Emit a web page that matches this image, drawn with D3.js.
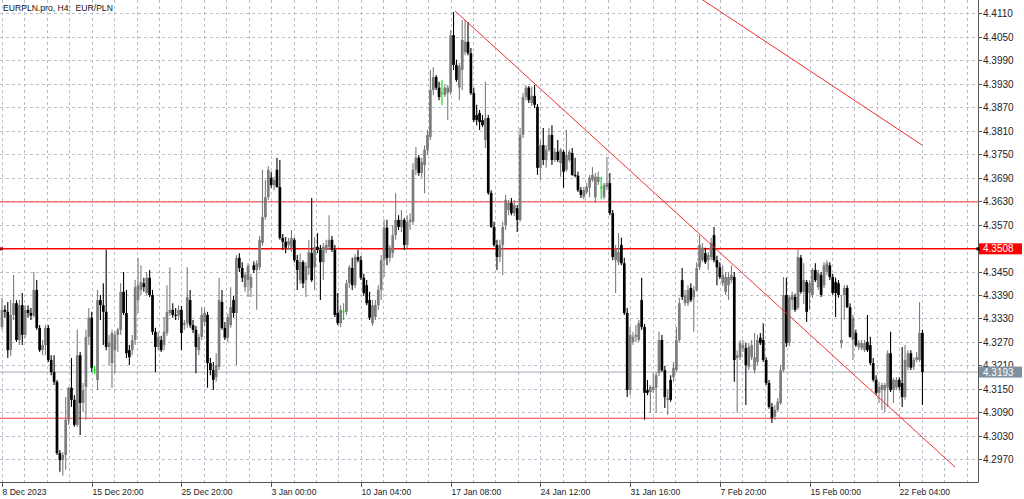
<!DOCTYPE html>
<html><head><meta charset="utf-8">
<script src="https://cdn.jsdelivr.net/npm/d3@7"></script>
<style>html,body{margin:0;padding:0;background:#fff;overflow:hidden}</style>
</head><body><svg id="c" width="1024" height="499"></svg>
<script>
const openP=[4.3308,4.3352,4.3347,4.3249,4.3339,4.3369,4.3275,4.3364,4.3288,4.3352,4.3344,4.3337,4.3403,4.3306,4.3249,4.3262,4.3306,4.3224,4.3193,4.3168,4.2986,4.2968,4.2981,4.3071,4.3153,4.3122,4.3058,4.3236,4.3114,4.3155,4.3283,4.3332,4.3198,4.3173,4.3377,4.3364,4.3347,4.3257,4.3216,4.3249,4.3288,4.3301,4.3398,4.3344,4.3249,4.3249,4.3275,4.3377,4.3403,4.3420,4.3395,4.3434,4.3390,4.3296,4.3257,4.3275,4.3262,4.3293,4.3344,4.3352,4.3339,4.3337,4.3352,4.3313,4.3318,4.3377,4.3313,4.3301,4.3249,4.3283,4.3321,4.3339,4.3216,4.3198,4.3180,4.3206,4.3372,4.3306,4.3281,4.3313,4.3377,4.3344,4.3485,4.3459,4.3410,4.3428,4.3408,4.3466,4.3454,4.3461,4.3523,4.3589,4.3640,4.3690,4.3671,4.3710,4.3666,4.3536,4.3526,4.3518,4.3511,4.3531,4.3479,4.3428,4.3474,4.3428,4.3459,4.3497,4.3461,4.3513,4.3505,4.3474,4.3505,4.3513,4.3531,4.3505,4.3344,4.3318,4.3347,4.3347,4.3420,4.3459,4.3415,4.3487,4.3479,4.3434,4.3415,4.3377,4.3318,4.3334,4.3364,4.3403,4.3479,4.3562,4.3485,4.3497,4.3543,4.3582,4.3564,4.3582,4.3518,4.3577,4.3577,4.3710,4.3741,4.3702,4.3722,4.3761,4.3794,4.3914,4.3947,4.3920,4.3906,4.3901,4.3906,4.3909,4.4054,4.3978,4.3920,4.3965,4.4011,4.4037,4.4008,4.3906,4.3850,4.3855,4.3837,4.3786,4.3842,4.3651,4.3564,4.3518,4.3487,4.3518,4.3569,4.3607,4.3625,4.3599,4.3612,4.3582,4.3799,4.3896,4.3920,4.3881,4.3899,4.3871,4.3715,4.3773,4.3735,4.3761,4.3799,4.3735,4.3756,4.3727,4.3756,4.3710,4.3735,4.3753,4.3697,4.3695,4.3658,4.3640,4.3653,4.3664,4.3684,4.3640,4.3679,4.3664,4.3640,4.3666,4.3676,4.3599,4.3479,4.3474,4.3518,4.3471,4.3344,4.3147,4.3270,4.3283,4.3275,4.3377,4.3308,4.3147,4.3142,4.3147,4.3153,4.3190,4.3275,4.3198,4.3122,4.3173,4.3180,4.3198,4.3275,4.3428,4.3369,4.3369,4.3408,4.3385,4.3403,4.3461,4.3479,4.3497,4.3479,4.3487,4.3543,4.3479,4.3461,4.3420,4.3398,4.3415,4.3428,4.3436,4.3229,4.3231,4.3254,4.3254,4.3206,4.3231,4.3198,4.3219,4.3281,4.3275,4.3224,4.3165,4.3104,4.3079,4.3096,4.3114,4.3198,4.3390,4.3267,4.3377,4.3385,4.3357,4.3485,4.3398,4.3423,4.3395,4.3390,4.3454,4.3410,4.3441,4.3415,4.3449,4.3466,4.3436,4.3423,4.3420,4.3267,4.3390,4.3408,4.3359,4.3275,4.3293,4.3257,4.3254,4.3249,4.3270,4.3262,4.3216,4.3173,4.3140,4.3147,4.3147,4.3153,4.3241,4.3147,4.3153,4.3173,4.3165,4.3129,4.3206,4.3241,4.3206,4.3224,4.3224,4.3293];
const highP=[4.3383,4.3364,4.3372,4.3377,4.3441,4.3377,4.3377,4.3395,4.3364,4.3364,4.3357,4.3449,4.3428,4.3313,4.3275,4.3313,4.3313,4.3236,4.3236,4.3173,4.2994,4.2989,4.3129,4.3155,4.3229,4.3134,4.3301,4.3244,4.3165,4.3301,4.3357,4.3347,4.3209,4.3403,4.3390,4.3420,4.3505,4.3288,4.3301,4.3296,4.3306,4.3420,4.3449,4.3403,4.3262,4.3288,4.3428,4.3485,4.3466,4.3434,4.3449,4.3454,4.3403,4.3306,4.3296,4.3286,4.3334,4.3415,4.3461,4.3369,4.3357,4.3364,4.3362,4.3326,4.3461,4.3403,4.3326,4.3311,4.3291,4.3359,4.3357,4.3347,4.3229,4.3219,4.3241,4.3434,4.3403,4.3321,4.3342,4.3410,4.3388,4.3492,4.3497,4.3474,4.3449,4.3471,4.3444,4.3476,4.3479,4.3541,4.3710,4.3684,4.3720,4.3705,4.3692,4.3741,4.3735,4.3546,4.3538,4.3536,4.3556,4.3536,4.3492,4.3497,4.3479,4.3474,4.3531,4.3638,4.3538,4.3548,4.3518,4.3523,4.3531,4.3594,4.3541,4.3518,4.3395,4.3364,4.3369,4.3428,4.3466,4.3485,4.3495,4.3505,4.3490,4.3444,4.3428,4.3398,4.3377,4.3377,4.3415,4.3492,4.3582,4.3582,4.3518,4.3569,4.3650,4.3594,4.3607,4.3587,4.3594,4.3599,4.3727,4.3768,4.3748,4.3741,4.3773,4.3812,4.3965,4.3973,4.3952,4.3935,4.3940,4.3927,4.3927,4.4067,4.4113,4.3991,4.3983,4.4093,4.4093,4.4088,4.4021,4.3920,4.3876,4.3863,4.3850,4.3935,4.3850,4.3658,4.3577,4.3531,4.3531,4.3577,4.3646,4.3633,4.3638,4.3633,4.3620,4.3817,4.3906,4.3927,4.3924,4.3922,4.3927,4.3878,4.3786,4.3817,4.3773,4.3817,4.3824,4.3766,4.3786,4.3766,4.3761,4.3812,4.3761,4.3766,4.3741,4.3705,4.3666,4.3666,4.3676,4.3697,4.3717,4.3702,4.3705,4.3692,4.3676,4.3743,4.3702,4.3607,4.3518,4.3548,4.3536,4.3485,4.3357,4.3308,4.3296,4.3313,4.3326,4.3434,4.3316,4.3173,4.3160,4.3190,4.3193,4.3296,4.3288,4.3209,4.3147,4.3185,4.3219,4.3308,4.3383,4.3459,4.3403,4.3415,4.3420,4.3413,4.3474,4.3543,4.3523,4.3511,4.3500,4.3536,4.3564,4.3490,4.3474,4.3466,4.3449,4.3449,4.3466,4.3449,4.3249,4.3275,4.3275,4.3267,4.3267,4.3275,4.3293,4.3288,4.3293,4.3318,4.3231,4.3173,4.3114,4.3109,4.3127,4.3211,4.3436,4.3434,4.3390,4.3398,4.3393,4.3505,4.3492,4.3471,4.3428,4.3428,4.3459,4.3471,4.3454,4.3449,4.3474,4.3479,4.3474,4.3444,4.3434,4.3428,4.3390,4.3415,4.3415,4.3369,4.3339,4.3301,4.3275,4.3275,4.3275,4.3339,4.3283,4.3229,4.3185,4.3168,4.3165,4.3165,4.3249,4.3296,4.3178,4.3180,4.3180,4.3257,4.3262,4.3249,4.3249,4.3231,4.3244,4.3372,4.3301];
const lowP=[4.3301,4.3332,4.3229,4.3234,4.3326,4.3270,4.3262,4.3262,4.3281,4.3332,4.3326,4.3332,4.3301,4.3244,4.3236,4.3236,4.3219,4.3185,4.3160,4.2981,4.2938,4.2928,4.2943,4.3058,4.3104,4.3053,4.3053,4.3032,4.3091,4.3071,4.3262,4.3193,4.3188,4.3147,4.3326,4.3262,4.3249,4.3211,4.3153,4.3190,4.3244,4.3288,4.3339,4.3229,4.3211,4.3236,4.3262,4.3344,4.3390,4.3398,4.3388,4.3385,4.3288,4.3193,4.3249,4.3244,4.3249,4.3286,4.3337,4.3332,4.3326,4.3326,4.3249,4.3301,4.3306,4.3306,4.3293,4.3190,4.3236,4.3275,4.3311,4.3153,4.3185,4.3147,4.3168,4.3198,4.3301,4.3275,4.3270,4.3306,4.3332,4.3211,4.3449,4.3423,4.3398,4.3385,4.3385,4.3446,4.3352,4.3454,4.3516,4.3582,4.3633,4.3664,4.3658,4.3664,4.3531,4.3505,4.3497,4.3505,4.3500,4.3474,4.3403,4.3418,4.3408,4.3385,4.3441,4.3423,4.3403,4.3497,4.3377,4.3428,4.3497,4.3505,4.3500,4.3334,4.3313,4.3308,4.3326,4.3339,4.3408,4.3403,4.3408,4.3474,4.3428,4.3388,4.3364,4.3326,4.3311,4.3326,4.3352,4.3377,4.3436,4.3466,4.3474,4.3485,4.3531,4.3556,4.3551,4.3505,4.3511,4.3556,4.3569,4.3697,4.3695,4.3690,4.3650,4.3748,4.3786,4.3901,4.3914,4.3888,4.3875,4.3896,4.3837,4.3901,4.3965,4.3935,4.3888,4.3914,4.4003,4.4003,4.3901,4.3832,4.3824,4.3812,4.3819,4.3766,4.3646,4.3562,4.3513,4.3454,4.3474,4.3441,4.3556,4.3594,4.3594,4.3592,4.3551,4.3577,4.3791,4.3888,4.3881,4.3873,4.3868,4.3697,4.3684,4.3722,4.3715,4.3756,4.3722,4.3730,4.3730,4.3692,4.3664,4.3705,4.3730,4.3695,4.3690,4.3653,4.3638,4.3635,4.3648,4.3640,4.3679,4.3625,4.3671,4.3635,4.3635,4.3658,4.3594,4.3479,4.3395,4.3466,4.3466,4.3339,4.3129,4.3134,4.3262,4.3270,4.3270,4.3301,4.3071,4.3134,4.3089,4.3140,4.3089,4.3183,4.3193,4.3101,4.3083,4.3117,4.3168,4.3193,4.3270,4.3377,4.3362,4.3362,4.3372,4.3296,4.3398,4.3454,4.3474,4.3469,4.3454,4.3479,4.3474,4.3415,4.3431,4.3413,4.3390,4.3377,4.3420,4.3168,4.3089,4.3224,4.3244,4.3109,4.3198,4.3224,4.3190,4.3211,4.3262,4.3219,4.3160,4.3099,4.3063,4.3071,4.3091,4.3109,4.3193,4.3257,4.3259,4.3352,4.3347,4.3352,4.3393,4.3367,4.3321,4.3352,4.3383,4.3423,4.3403,4.3385,4.3408,4.3441,4.3428,4.3390,4.3334,4.3383,4.3254,4.3326,4.3357,4.3281,4.3224,4.3257,4.3249,4.3249,4.3244,4.3244,4.3211,4.3168,4.3134,4.3114,4.3096,4.3091,4.3104,4.3142,4.3114,4.3147,4.3147,4.3104,4.3122,4.3198,4.3198,4.3198,4.3219,4.3219,4.3109];
const closeP=[4.3352,4.3347,4.3249,4.3339,4.3369,4.3275,4.3364,4.3288,4.3352,4.3344,4.3337,4.3403,4.3306,4.3249,4.3262,4.3306,4.3224,4.3193,4.3168,4.2986,4.2968,4.2981,4.3071,4.3153,4.3122,4.3058,4.3236,4.3114,4.3147,4.3283,4.3332,4.3204,4.3198,4.3377,4.3364,4.3347,4.3257,4.3267,4.3293,4.3288,4.3301,4.3398,4.3344,4.3241,4.3231,4.3275,4.3410,4.3415,4.3423,4.3410,4.3434,4.3390,4.3296,4.3257,4.3283,4.3249,4.3296,4.3347,4.3352,4.3339,4.3337,4.3352,4.3293,4.3318,4.3385,4.3313,4.3301,4.3257,4.3283,4.3339,4.3344,4.3216,4.3198,4.3173,4.3211,4.3377,4.3306,4.3281,4.3334,4.3359,4.3344,4.3485,4.3459,4.3434,4.3441,4.3464,4.3436,4.3454,4.3471,4.3531,4.3589,4.3640,4.3710,4.3671,4.3684,4.3666,4.3536,4.3526,4.3511,4.3528,4.3536,4.3479,4.3454,4.3474,4.3420,4.3464,4.3500,4.3428,4.3513,4.3505,4.3474,4.3513,4.3518,4.3531,4.3505,4.3339,4.3318,4.3352,4.3347,4.3420,4.3461,4.3415,4.3487,4.3479,4.3434,4.3395,4.3369,4.3332,4.3364,4.3364,4.3403,4.3479,4.3562,4.3485,4.3511,4.3543,4.3582,4.3564,4.3582,4.3518,4.3577,4.3582,4.3710,4.3741,4.3702,4.3730,4.3761,4.3799,4.3914,4.3947,4.3920,4.3896,4.3906,4.3920,4.3920,4.4054,4.3978,4.3940,4.3975,4.4042,4.4037,4.4008,4.3906,4.3837,4.3837,4.3832,4.3824,4.3842,4.3651,4.3564,4.3518,4.3487,4.3518,4.3564,4.3633,4.3625,4.3599,4.3620,4.3582,4.3799,4.3896,4.3920,4.3888,4.3899,4.3876,4.3715,4.3773,4.3735,4.3761,4.3799,4.3735,4.3756,4.3735,4.3761,4.3705,4.3748,4.3756,4.3697,4.3695,4.3658,4.3646,4.3658,4.3666,4.3690,4.3697,4.3692,4.3692,4.3664,4.3671,4.3676,4.3599,4.3487,4.3505,4.3500,4.3471,4.3344,4.3147,4.3288,4.3283,4.3288,4.3318,4.3308,4.3140,4.3140,4.3155,4.3155,4.3185,4.3275,4.3198,4.3129,4.3127,4.3122,4.3204,4.3275,4.3369,4.3385,4.3390,4.3403,4.3377,4.3403,4.3459,4.3518,4.3511,4.3474,4.3492,4.3523,4.3479,4.3461,4.3436,4.3441,4.3436,4.3436,4.3441,4.3224,4.3236,4.3267,4.3262,4.3211,4.3257,4.3262,4.3231,4.3275,4.3267,4.3224,4.3165,4.3104,4.3076,4.3096,4.3117,4.3198,4.3390,4.3267,4.3385,4.3390,4.3352,4.3487,4.3398,4.3428,4.3347,4.3420,4.3454,4.3428,4.3446,4.3390,4.3466,4.3471,4.3436,4.3395,4.3395,4.3390,4.3275,4.3408,4.3359,4.3283,4.3332,4.3262,4.3267,4.3267,4.3267,4.3249,4.3216,4.3173,4.3140,4.3155,4.3160,4.3160,4.3241,4.3147,4.3173,4.3173,4.3155,4.3129,4.3224,4.3241,4.3204,4.3224,4.3231,4.3293,4.3193];

const timeTickBars=[0,31,62,93,124,155,186,217,248,279,310];
const timeTickLabels=["8 Dec 2023","15 Dec 20:00","25 Dec 20:00","3 Jan 00:00","10 Jan 04:00","17 Jan 08:00","24 Jan 12:00","31 Jan 16:00","7 Feb 20:00","15 Feb 00:00","22 Feb 04:00"];
const priceTicks=[4.2970,4.3030,4.3090,4.3150,4.3210,4.3270,4.3330,4.3390,4.3450,4.3510,4.3570,4.3630,4.3690,4.3750,4.3810,4.3870,4.3930,4.3990,4.4050,4.4110];
const levelLines=[4.3628,4.3075];
const keyLevel=4.3508;
const lastPrice=4.3193;
const trendA=[[156.5,4.4116],[329.3,4.2950]];
const trendB=[[236,4.4174],[317.9,4.3773]];
const title="EURPLN.pro, H4:  EUR/PLN";

const PR=978, PB=482;
const svg=d3.select("#c");
const x=d3.scaleLinear().domain([0,337.2]).range([2,PR]);
const y=d3.scaleLinear().domain([4.2912,4.4144]).range([PB,0]);
const FONT="Liberation Sans, Arial, sans-serif";

svg.append("rect").attr("width",1024).attr("height",499).attr("fill","#fff");
svg.append("defs").append("clipPath").attr("id","clip").append("rect").attr("x",0).attr("y",0).attr("width",PR).attr("height",PB);

const grid=svg.append("g").attr("stroke","#b9c0cb").attr("stroke-width",1).attr("stroke-dasharray","3,3");
priceTicks.forEach(p=>{const yy=Math.round(y(p))+0.5;grid.append("line").attr("x1",0).attr("x2",PR).attr("y1",yy).attr("y2",yy);});
for(let b=0;x(b)<PR-1;b+=7.75){const xx=Math.round(x(b))+0.5;grid.append("line").attr("x1",xx).attr("x2",xx).attr("y1",0).attr("y2",PB);}

const plot=svg.append("g").attr("clip-path","url(#clip)");
levelLines.forEach(p=>plot.append("line").attr("x1",0).attr("x2",PR).attr("y1",y(p)).attr("y2",y(p)).attr("stroke","#f23a3a").attr("stroke-width",1));
plot.append("line").attr("x1",0).attr("x2",PR).attr("y1",y(keyLevel)).attr("y2",y(keyLevel)).attr("stroke","#f00").attr("stroke-width",1.6);
plot.append("line").attr("x1",0).attr("x2",PR).attr("y1",y(lastPrice)).attr("y2",y(lastPrice)).attr("stroke","#a4acb6").attr("stroke-width",1);
plot.append("rect").attr("x",0).attr("y",y(keyLevel)-1.5).attr("width",3).attr("height",3).attr("fill","#a00000");

const bars=d3.range(openP.length).map(i=>({i,o:openP[i],h:highP[i],l:lowP[i],c:closeP[i]}));
const cg=plot.append("g");
const BW=2.7;
bars.forEach(d=>{
  const cx=x(d.i);
  const doji=d.o===d.c;
  const up=d.c>d.o;
  const col=doji?"#00e000":(up?"#7c7c7c":"#000");
  cg.append("line").attr("x1",cx).attr("x2",cx).attr("y1",y(d.h)).attr("y2",y(d.l)).attr("stroke",col).attr("stroke-width",1.1);
  if(doji){
    cg.append("line").attr("x1",cx-1.3).attr("x2",cx+1.3).attr("y1",y(d.o)).attr("y2",y(d.o)).attr("stroke",col).attr("stroke-width",1);
  } else {
    const top=y(Math.max(d.o,d.c)), bot=y(Math.min(d.o,d.c));
    cg.append("rect").attr("x",cx-BW/2).attr("y",top).attr("width",BW).attr("height",Math.max(1,bot-top)).attr("fill",col);
  }
});

[trendA,trendB].forEach(t=>plot.append("line").attr("x1",x(t[0][0])).attr("y1",y(t[0][1])).attr("x2",x(t[1][0])).attr("y2",y(t[1][1])).attr("stroke","#f03030").attr("stroke-width",1));

svg.append("line").attr("x1",PR+0.5).attr("x2",PR+0.5).attr("y1",0).attr("y2",PB+0.5).attr("stroke","#555");
svg.append("line").attr("x1",0).attr("x2",PR+0.5).attr("y1",PB+0.5).attr("y2",PB+0.5).attr("stroke","#555");

const ra=svg.append("g").attr("font-family",FONT).attr("font-size","10px").attr("fill","#222");
priceTicks.forEach(p=>{
  const yy=Math.round(y(p))+0.5;
  ra.append("line").attr("x1",PR).attr("x2",PR+4).attr("y1",yy).attr("y2",yy).attr("stroke","#555");
  ra.append("text").attr("x",PR+5).attr("y",yy+3.5).text(p.toFixed(4));
});
const ba=svg.append("g").attr("font-family",FONT).attr("font-size","8.6px").attr("fill","#222");
timeTickBars.forEach((b,k)=>{
  const xx=Math.round(x(b))+0.5;
  ba.append("line").attr("x1",xx).attr("x2",xx).attr("y1",PB).attr("y2",PB+5).attr("stroke","#555");
  ba.append("text").attr("x",xx).attr("y",495).text(timeTickLabels[k]);
});

function priceBox(p,fill){
  const yy=y(p);
  svg.append("rect").attr("x",PR+1).attr("y",yy-5.5).attr("width",43).attr("height",11).attr("fill",fill);
  svg.append("text").attr("x",PR+5).attr("y",yy+3.5).attr("font-family",FONT).attr("font-size","10px").attr("fill","#fff").text(p.toFixed(4));
}
priceBox(keyLevel,"#ff0000");
svg.append("rect").attr("x",PR-1.5).attr("y",y(keyLevel)-1.5).attr("width",3).attr("height",3).attr("fill","#000");
priceBox(lastPrice,"#8090a0");

svg.append("text").attr("x",3).attr("y",11).attr("font-family",FONT).attr("font-size","8.6px").attr("fill","#111").style("white-space","pre").text(title);
</script></body></html>
